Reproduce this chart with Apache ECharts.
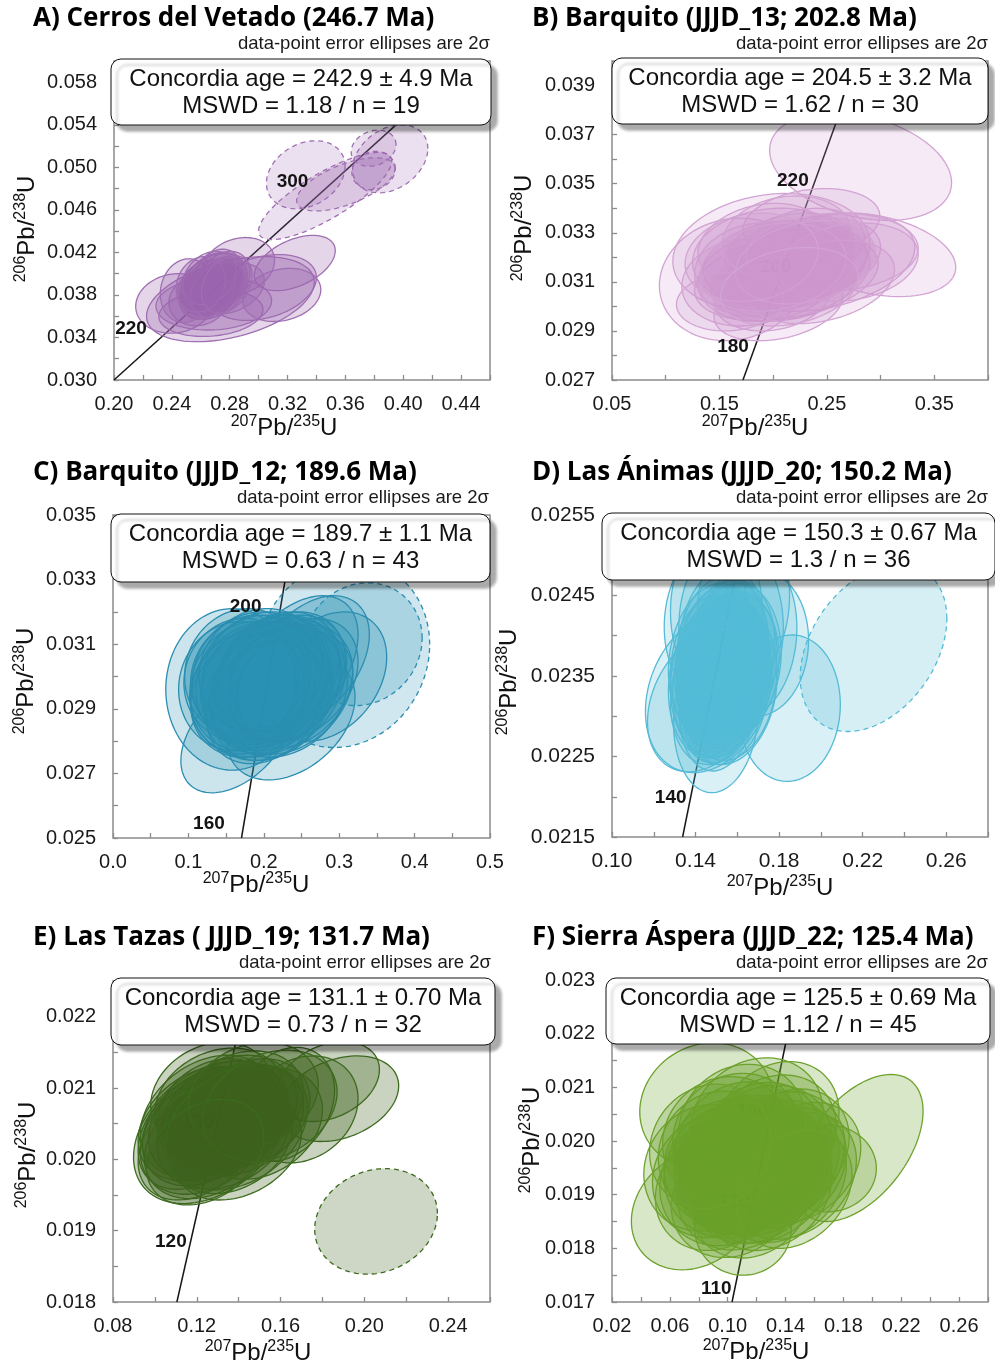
<!DOCTYPE html>
<html>
<head>
<meta charset="utf-8">
<title>U-Pb concordia diagrams</title>
<script src="https://cdn.jsdelivr.net/npm/echarts@6/dist/echarts.min.js"></script>
<style>
  html, body { margin: 0; padding: 0; background: #ffffff; }
  #chart { width: 995px; height: 1363px; }
</style>
</head>
<body>
<div id="chart"></div>
<script>
// ---------------------------------------------------------------------------
// Text content
// ---------------------------------------------------------------------------
const panelTitles = [
  'A) Cerros del Vetado (246.7 Ma)',
  'B) Barquito (JJJD_13; 202.8 Ma)',
  'C) Barquito (JJJD_12; 189.6 Ma)',
  'D) Las Ánimas (JJJD_20; 150.2 Ma)',
  'E) Las Tazas ( JJJD_19; 131.7 Ma)',
  'F) Sierra Áspera (JJJD_22; 125.4 Ma)'
];
const ellipseNote = 'data-point error ellipses are 2σ';
const concordiaAgeText = [
  'Concordia age = 242.9 ± 4.9 Ma',
  'Concordia age = 204.5 ± 3.2 Ma',
  'Concordia age = 189.7 ± 1.1 Ma',
  'Concordia age = 150.3 ± 0.67 Ma',
  'Concordia age = 131.1 ± 0.70 Ma',
  'Concordia age = 125.5 ± 0.69 Ma'
];
const mswdText = [
  'MSWD = 1.18 / n = 19',
  'MSWD = 1.62 / n = 30',
  'MSWD = 0.63 / n = 43',
  'MSWD = 1.3 / n = 36',
  'MSWD = 0.73 / n = 32',
  'MSWD = 1.12 / n = 45'
];

// ---------------------------------------------------------------------------
// Axes: [min, max, tick step] and the tick values that carry a label
// ---------------------------------------------------------------------------
const xExtents = [[0.20, 0.46, 0.02], [0.05, 0.40, 0.05], [0.0, 0.5, 0.05], [0.10, 0.28, 0.02], [0.08, 0.26, 0.02], [0.02, 0.28, 0.02]];
const yExtents = [[0.030, 0.060, 0.002], [0.027, 0.040, 0.001], [0.025, 0.035, 0.001], [0.0215, 0.0255, 0.0005], [0.018, 0.0225, 0.0005], [0.017, 0.023, 0.0005]];
const xTickLabels = [
  [0.20, 0.24, 0.28, 0.32, 0.36, 0.40, 0.44],
  [0.05, 0.15, 0.25, 0.35],
  [0.0, 0.1, 0.2, 0.3, 0.4, 0.5],
  [0.10, 0.14, 0.18, 0.22, 0.26],
  [0.08, 0.12, 0.16, 0.20, 0.24],
  [0.02, 0.06, 0.10, 0.14, 0.18, 0.22, 0.26]
];
const yTickLabels = [
  [0.030, 0.034, 0.038, 0.042, 0.046, 0.050, 0.054, 0.058],
  [0.027, 0.029, 0.031, 0.033, 0.035, 0.037, 0.039],
  [0.025, 0.027, 0.029, 0.031, 0.033, 0.035],
  [0.0215, 0.0225, 0.0235, 0.0245, 0.0255],
  [0.018, 0.019, 0.020, 0.021, 0.022],
  [0.017, 0.018, 0.019, 0.020, 0.021, 0.022, 0.023]
];
const xDecimals = [2, 2, 1, 2, 2, 2];
const yDecimals = [3, 3, 3, 4, 3, 3];

// ---------------------------------------------------------------------------
// Concordia traces [207Pb/235U, 206Pb/238U] and labelled ages [x, y, age]
// ---------------------------------------------------------------------------
const concordiaA = [[0.200, 0.0300], [0.430, 0.0583]];
const concordiaB = [[0.1719, 0.0270], [0.2794, 0.0400]];
const concordiaC = [[0.1704, 0.0250], [0.2429, 0.0350]];
const concordiaD = [[0.1338, 0.0215], [0.1650, 0.0255]];
const concordiaE = [[0.1105, 0.0180], [0.1453, 0.0225]];
const concordiaF = [[0.1030, 0.0170], [0.1492, 0.0230]];

const ageMarksA = [[0.2393, 0.0348, 220], [0.3510, 0.0486, 300]];
const ageMarksB = [[0.2387, 0.0351, 220], [0.1830, 0.02836, 180]];
const ageMarksC = [[0.2221, 0.03216, 200], [0.1735, 0.02544, 160]];
const ageMarksD = [[0.1376, 0.02199, 140]];
const ageMarksE = [[0.1171, 0.01885, 120]];
const ageMarksF = [[0.1048, 0.01725, 110]];
// age labels that sit underneath the data cloud
const buriedMarksB = [[0.2224, 0.03163, 200]];
const buriedMarksE = [[0.1300, 0.02051, 130]];
const buriedMarksF = [[0.1173, 0.01887, 120], [0.1302, 0.02054, 130]];

// ---------------------------------------------------------------------------
// Analyses: [207/235 centre, 206/238 centre, 2σ 207/235, 2σ 206/238, rho]
// ---------------------------------------------------------------------------
const ellipsesA = [
  [0.2805, 0.0376, 0.0580, 0.0040, 0.40], [0.2420, 0.0372, 0.0270, 0.0028, 0.10],
  [0.3250, 0.0410, 0.0280, 0.0026, 0.45], [0.3030, 0.0387, 0.0370, 0.0031, 0.30],
  [0.2860, 0.0407, 0.0250, 0.0027, 0.20], [0.2690, 0.0390, 0.0230, 0.0029, 0.30],
  [0.2650, 0.0382, 0.0200, 0.0025, 0.20], [0.2760, 0.0395, 0.0180, 0.0026, 0.25],
  [0.2670, 0.0363, 0.0360, 0.0022, 0.15], [0.2585, 0.0375, 0.0205, 0.0024, 0.10],
  [0.2690, 0.0372, 0.0400, 0.0025, 0.10], [0.3160, 0.0380, 0.0270, 0.0025, 0.20],
  [0.2500, 0.0384, 0.0180, 0.0030, 0.10], [0.2800, 0.0386, 0.0240, 0.0024, 0.30],
  [0.2720, 0.0400, 0.0160, 0.0023, 0.20], [0.2680, 0.0388, 0.0210, 0.0026, 0.25],
  [0.2620, 0.0380, 0.0170, 0.0023, 0.20], [0.2740, 0.0392, 0.0150, 0.0024, 0.30],
  [0.2700, 0.0392, 0.0220, 0.0028, 0.25], [0.2640, 0.0386, 0.0200, 0.0027, 0.20],
  [0.2720, 0.0385, 0.0190, 0.0026, 0.30], [0.2660, 0.0396, 0.0185, 0.0025, 0.25],
  [0.2600, 0.0390, 0.0170, 0.0026, 0.15], [0.2780, 0.0390, 0.0175, 0.0027, 0.30]
];
const rejectedA = [
  [0.3326, 0.0493, 0.0272, 0.0032, 0.25], [0.3460, 0.0473, 0.0460, 0.0041, 0.80],
  [0.3910, 0.0508, 0.0260, 0.0032, 0.30], [0.3795, 0.0497, 0.0150, 0.0018, 0.10],
  [0.3795, 0.0518, 0.0155, 0.0017, 0.20], [0.3603, 0.0484, 0.0340, 0.0025, 0.60]
];

const ellipsesB = [
  [0.2814, 0.0357, 0.0847, 0.0022, -0.30], [0.1625, 0.0311, 0.0684, 0.0025, 0.10],
  [0.2946, 0.0321, 0.0754, 0.0017, -0.30], [0.2356, 0.0334, 0.0637, 0.0014, 0.20],
  [0.1983, 0.0322, 0.0917, 0.0024, 0.15], [0.2449, 0.0318, 0.0870, 0.0020, 0.30],
  [0.2123, 0.0312, 0.0855, 0.0018, 0.30], [0.2050, 0.0318, 0.0700, 0.0017, 0.20],
  [0.1950, 0.0312, 0.0650, 0.0018, 0.15], [0.2150, 0.0322, 0.0600, 0.0016, 0.25],
  [0.2000, 0.0320, 0.0750, 0.0020, 0.10], [0.2250, 0.0316, 0.0620, 0.0017, 0.30],
  [0.1850, 0.0315, 0.0580, 0.0019, 0.10], [0.2100, 0.0310, 0.0680, 0.0016, 0.20],
  [0.2300, 0.0325, 0.0550, 0.0015, 0.20], [0.1900, 0.0325, 0.0600, 0.0017, 0.20],
  [0.2200, 0.0313, 0.0700, 0.0018, 0.30], [0.1750, 0.0310, 0.0600, 0.0018, 0.10],
  [0.2400, 0.0320, 0.0600, 0.0016, 0.25], [0.2000, 0.0305, 0.0550, 0.0015, 0.20],
  [0.2125, 0.0328, 0.0600, 0.0017, 0.15], [0.2050, 0.0300, 0.0600, 0.0014, 0.30],
  [0.2550, 0.0322, 0.0800, 0.0016, 0.10], [0.2450, 0.0310, 0.0680, 0.0017, 0.30],
  [0.1600, 0.0302, 0.0500, 0.0012, 0.10], [0.2700, 0.0318, 0.0650, 0.0016, 0.20],
  [0.2000, 0.0316, 0.0680, 0.0018, 0.20], [0.2300, 0.0318, 0.0650, 0.0017, 0.25],
  [0.1800, 0.0320, 0.0620, 0.0018, 0.15], [0.2150, 0.0308, 0.0640, 0.0016, 0.25]
];
const rejectedB = [];

const ellipsesC = [
  [0.158, 0.0296, 0.088, 0.0025, 0.00], [0.165, 0.0282, 0.075, 0.0018, 0.45],
  [0.236, 0.0287, 0.085, 0.0019, 0.35], [0.283, 0.0300, 0.080, 0.0020, 0.30],
  [0.262, 0.0305, 0.078, 0.0020, 0.40], [0.240, 0.0303, 0.085, 0.0022, 0.45],
  [0.200, 0.0298, 0.082, 0.0019, 0.15], [0.190, 0.0300, 0.085, 0.0020, 0.10],
  [0.210, 0.0296, 0.080, 0.0019, 0.20], [0.220, 0.0299, 0.083, 0.0020, 0.15],
  [0.180, 0.0297, 0.078, 0.0020, 0.10], [0.230, 0.0300, 0.080, 0.0019, 0.25],
  [0.195, 0.0301, 0.076, 0.0018, 0.10], [0.205, 0.0294, 0.084, 0.0020, 0.20],
  [0.240, 0.0297, 0.078, 0.0019, 0.25], [0.170, 0.0299, 0.076, 0.0019, 0.05],
  [0.215, 0.0301, 0.074, 0.0018, 0.15], [0.185, 0.0294, 0.082, 0.0019, 0.15],
  [0.225, 0.0295, 0.086, 0.0020, 0.20], [0.175, 0.0301, 0.080, 0.0020, 0.05],
  [0.212, 0.0293, 0.080, 0.0019, 0.25], [0.198, 0.0299, 0.088, 0.0021, 0.15],
  [0.188, 0.0297, 0.072, 0.0018, 0.10], [0.232, 0.0302, 0.076, 0.0018, 0.20],
  [0.202, 0.0292, 0.078, 0.0019, 0.25], [0.245, 0.0299, 0.080, 0.0019, 0.30],
  [0.165, 0.0297, 0.078, 0.0020, 0.05], [0.208, 0.0300, 0.070, 0.0017, 0.15],
  [0.193, 0.0296, 0.090, 0.0021, 0.15], [0.222, 0.0302, 0.078, 0.0018, 0.20],
  [0.183, 0.0300, 0.080, 0.0019, 0.10], [0.218, 0.0297, 0.090, 0.0021, 0.25],
  [0.204, 0.0298, 0.066, 0.0016, 0.15], [0.236, 0.0295, 0.082, 0.0019, 0.30],
  [0.178, 0.0295, 0.076, 0.0019, 0.10], [0.210, 0.0299, 0.076, 0.0018, 0.20],
  [0.196, 0.0302, 0.082, 0.0019, 0.10], [0.228, 0.0298, 0.074, 0.0018, 0.20]
];
const rejectedC = [
  [0.305, 0.0307, 0.115, 0.0029, 0.10], [0.330, 0.0310, 0.080, 0.0019, 0.10]
];

const ellipsesD = [
  [0.1850, 0.0231, 0.0243, 0.00091, 0.05], [0.1498, 0.0230, 0.0203, 0.00095, 0.10],
  [0.1463, 0.0233, 0.0303, 0.00100, 0.24], [0.1450, 0.0232, 0.0280, 0.00089, 0.30],
  [0.1702, 0.0239, 0.0239, 0.00090, 0.05], [0.1500, 0.0243, 0.0220, 0.00100, 0.00],
  [0.1630, 0.0244, 0.0220, 0.00100, 0.10], [0.1570, 0.0241, 0.0250, 0.00110, 0.00],
  [0.1450, 0.0242, 0.0200, 0.00090, 0.10], [0.1660, 0.0240, 0.0225, 0.00100, 0.10],
  [0.153, 0.0235, 0.022, 0.00095, 0.15], [0.150, 0.0234, 0.021, 0.00092, 0.10],
  [0.156, 0.0236, 0.023, 0.00095, 0.20], [0.151, 0.0237, 0.020, 0.00090, 0.10],
  [0.157, 0.0234, 0.022, 0.00095, 0.15], [0.148, 0.0236, 0.020, 0.00090, 0.10],
  [0.154, 0.0233, 0.021, 0.00090, 0.15], [0.158, 0.0237, 0.023, 0.00095, 0.10],
  [0.152, 0.0233, 0.020, 0.00088, 0.20], [0.153, 0.0238, 0.022, 0.00095, 0.10],
  [0.149, 0.0237, 0.022, 0.00095, 0.15], [0.155, 0.0235, 0.020, 0.00090, 0.25],
  [0.152, 0.0235, 0.024, 0.00100, 0.15], [0.159, 0.0236, 0.021, 0.00090, 0.15],
  [0.147, 0.0234, 0.020, 0.00090, 0.10], [0.156, 0.0238, 0.019, 0.00088, 0.10],
  [0.150, 0.0236, 0.019, 0.00088, 0.15], [0.154, 0.0237, 0.024, 0.00100, 0.20],
  [0.149, 0.0233, 0.021, 0.00090, 0.15], [0.157, 0.0233, 0.022, 0.00090, 0.20],
  [0.153, 0.0239, 0.021, 0.00095, 0.10], [0.151, 0.0232, 0.019, 0.00088, 0.15]
];
const rejectedD = [[0.2252, 0.02385, 0.0351, 0.00104, 0.35]];

const ellipsesE = [
  [0.1880, 0.02085, 0.0284, 0.00060, 0.30], [0.1826, 0.02109, 0.0246, 0.00056, 0.30],
  [0.1616, 0.02077, 0.0242, 0.00080, 0.25], [0.1263, 0.02038, 0.0365, 0.00100, 0.35],
  [0.1400, 0.02015, 0.0300, 0.00072, 0.30], [0.1700, 0.02070, 0.0270, 0.00075, 0.20],
  [0.128, 0.02050, 0.031, 0.00080, 0.25], [0.124, 0.02045, 0.030, 0.00082, 0.30],
  [0.134, 0.02060, 0.030, 0.00078, 0.20], [0.124, 0.02035, 0.031, 0.00084, 0.30],
  [0.140, 0.02055, 0.031, 0.00078, 0.25], [0.130, 0.02065, 0.029, 0.00076, 0.20],
  [0.133, 0.02040, 0.032, 0.00082, 0.25], [0.122, 0.02050, 0.030, 0.00080, 0.30],
  [0.138, 0.02070, 0.030, 0.00076, 0.20], [0.126, 0.02025, 0.031, 0.00080, 0.30],
  [0.145, 0.02065, 0.029, 0.00076, 0.25], [0.131, 0.02080, 0.031, 0.00076, 0.20],
  [0.120, 0.02040, 0.028, 0.00082, 0.35], [0.136, 0.02030, 0.030, 0.00078, 0.25],
  [0.142, 0.02080, 0.029, 0.00072, 0.20], [0.125, 0.02060, 0.032, 0.00086, 0.30],
  [0.132, 0.02055, 0.027, 0.00072, 0.20], [0.150, 0.02050, 0.030, 0.00078, 0.25],
  [0.127, 0.02090, 0.029, 0.00074, 0.20], [0.121, 0.02025, 0.029, 0.00082, 0.35],
  [0.139, 0.02045, 0.034, 0.00088, 0.30], [0.147, 0.02090, 0.031, 0.00074, 0.20],
  [0.155, 0.02075, 0.032, 0.00078, 0.25], [0.124, 0.02010, 0.028, 0.00074, 0.30]
];
const rejectedE = [[0.2056, 0.01913, 0.0293, 0.00074, 0.15]];

const ellipsesF = [
  [0.1907, 0.01987, 0.0444, 0.00137, 0.50], [0.1688, 0.01949, 0.0340, 0.00081, 0.00],
  [0.0853, 0.02066, 0.0461, 0.00117, 0.10], [0.0772, 0.01873, 0.0438, 0.00113, 0.20],
  [0.1106, 0.01837, 0.0334, 0.00087, 0.00],
  [0.112, 0.01950, 0.046, 0.00122, 0.15], [0.100, 0.01960, 0.044, 0.00118, 0.10],
  [0.125, 0.01945, 0.045, 0.00120, 0.20], [0.090, 0.01935, 0.042, 0.00115, 0.10],
  [0.135, 0.01970, 0.046, 0.00122, 0.20], [0.118, 0.01925, 0.044, 0.00116, 0.15],
  [0.095, 0.01975, 0.043, 0.00118, 0.05], [0.140, 0.01950, 0.042, 0.00112, 0.25],
  [0.108, 0.01990, 0.045, 0.00120, 0.15], [0.128, 0.01910, 0.044, 0.00114, 0.20],
  [0.104, 0.01945, 0.048, 0.00126, 0.10], [0.145, 0.01935, 0.044, 0.00118, 0.25],
  [0.115, 0.01970, 0.040, 0.00110, 0.15], [0.085, 0.01950, 0.043, 0.00118, 0.10],
  [0.132, 0.01960, 0.045, 0.00116, 0.20], [0.110, 0.01915, 0.045, 0.00118, 0.15],
  [0.122, 0.01995, 0.043, 0.00114, 0.15], [0.098, 0.01925, 0.045, 0.00120, 0.10],
  [0.150, 0.01960, 0.042, 0.00112, 0.25], [0.113, 0.01955, 0.050, 0.00130, 0.15],
  [0.126, 0.01930, 0.046, 0.00120, 0.20], [0.106, 0.02010, 0.044, 0.00116, 0.10],
  [0.130, 0.02005, 0.045, 0.00118, 0.20], [0.118, 0.01945, 0.038, 0.00104, 0.15],
  [0.092, 0.01910, 0.042, 0.00114, 0.15], [0.138, 0.01925, 0.044, 0.00114, 0.25],
  [0.104, 0.01895, 0.043, 0.00112, 0.15], [0.124, 0.01980, 0.048, 0.00124, 0.20],
  [0.116, 0.01890, 0.041, 0.00108, 0.15], [0.100, 0.02000, 0.045, 0.00120, 0.05],
  [0.142, 0.01985, 0.042, 0.00112, 0.20], [0.120, 0.02035, 0.046, 0.00120, 0.15],
  [0.134, 0.02030, 0.043, 0.00118, 0.20], [0.110, 0.02025, 0.044, 0.00118, 0.10],
  [0.146, 0.01910, 0.040, 0.00110, 0.25], [0.088, 0.01990, 0.042, 0.00116, 0.10]
];
const rejectedF = [];

// ---------------------------------------------------------------------------
// Page layout and styling for each panel (pixels)
// ---------------------------------------------------------------------------
const SANS = '"Liberation Sans", Arial, Helvetica, sans-serif';
const HEAD = '"Open Sans", Lato, sans-serif';

const panels = [
  { grid: [114, 61, 376, 319], head: [33, 19], note: [490, 44], box: [111, 59, 380, 66],
    xName: [284, 427], yName: [26, 229], gap: 24, tickFont: 20,
    stroke: '#a06fb2', fill: 'rgba(157,100,174,0.27)', dashFill: 'rgba(157,100,174,0.20)' },
  { grid: [612, 61, 376, 319], head: [532, 19], note: [988, 44], box: [612, 58, 376, 66],
    xName: [755, 427], yName: [523, 228], gap: 6, tickFont: 20,
    stroke: '#d3a4d3', fill: 'rgba(205,150,205,0.20)', dashFill: 'rgba(205,150,205,0.15)' },
  { grid: [113, 515, 377, 323], head: [33, 473], note: [489, 498], box: [111, 514, 379, 68],
    xName: [256, 884], yName: [25, 681], gap: 19, tickFont: 20,
    stroke: '#2b8db0', fill: 'rgba(40,145,180,0.24)', dashFill: 'rgba(40,145,180,0.22)' },
  { grid: [612, 515, 376, 322], head: [532, 473], note: [988, 498], box: [602, 513, 393, 67],
    xName: [780, 887], yName: [508, 682], gap: 4, tickFont: 21,
    stroke: '#55bbd6', fill: 'rgba(80,188,214,0.22)', dashFill: 'rgba(80,188,214,0.24)' },
  { grid: [113, 981, 377, 321], head: [33, 938], note: [491, 963], box: [111, 978, 384, 67],
    xName: [258, 1352], yName: [27, 1155], gap: 4, tickFont: 20,
    stroke: '#3c6a1e', fill: 'rgba(60,96,28,0.28)', dashFill: 'rgba(60,96,28,0.25)' },
  { grid: [612, 980, 376, 322], head: [532, 938], note: [988, 963], box: [606, 978, 384, 66],
    xName: [756, 1351], yName: [531, 1140], gap: 3, tickFont: 20,
    stroke: '#6ea22d', fill: 'rgba(105,158,40,0.25)', dashFill: 'rgba(105,158,40,0.22)' }
];

const concordia = [concordiaA, concordiaB, concordiaC, concordiaD, concordiaE, concordiaF];
const ageMarks = [ageMarksA, ageMarksB, ageMarksC, ageMarksD, ageMarksE, ageMarksF];
const buriedMarks = [[], buriedMarksB, [], [], buriedMarksE, buriedMarksF];
const ellipses = [ellipsesA, ellipsesB, ellipsesC, ellipsesD, ellipsesE, ellipsesF];
const rejected = [rejectedA, rejectedB, rejectedC, rejectedD, rejectedE, rejectedF];

// ---------------------------------------------------------------------------
// Renderers
// ---------------------------------------------------------------------------
function ellipseRenderer(stroke, fill, dashed) {
  return function (params, api) {
    const cx = api.value(0), cy = api.value(1);
    const sx = api.value(2), sy = api.value(3), r = api.value(4);
    const k = Math.sqrt(Math.max(0, 1 - r * r));
    const pts = [];
    const n = 96;
    for (let i = 0; i < n; i++) {
      const t = (i / n) * Math.PI * 2;
      pts.push(api.coord([cx + sx * Math.cos(t), cy + sy * (r * Math.cos(t) + k * Math.sin(t))]));
    }
    return {
      type: 'polygon',
      shape: { points: pts },
      style: { fill: fill, stroke: stroke, lineWidth: 1.3, lineDash: dashed ? [5, 4] : null }
    };
  };
}

function ageLabelRenderer(gap, color) {
  return function (params, api) {
    const p = api.coord([api.value(0), api.value(1)]);
    return {
      type: 'text',
      x: p[0] - gap,
      y: p[1],
      style: {
        text: String(api.value(2)),
        font: 'bold 19px ' + SANS,
        fill: color,
        align: 'right', textAlign: 'right',
        verticalAlign: 'middle', textVerticalAlign: 'middle'
      }
    };
  };
}

function labelFormatter(values, decimals, step) {
  return function (v) {
    for (const l of values) {
      if (Math.abs(l - v) < step * 1e-3) return l.toFixed(decimals);
    }
    return '';
  };
}

function pbRatio(top, bottom) {
  return '{s|' + top + '}{m|Pb/}{s|' + bottom + '}{m|U}';
}
const ratioRich = {
  s: { fontSize: 16, fontFamily: SANS, fill: '#111', verticalAlign: 'top', lineHeight: 16 },
  m: { fontSize: 24, fontFamily: SANS, fill: '#111', verticalAlign: 'bottom', lineHeight: 26 }
};

// ---------------------------------------------------------------------------
// Build option
// ---------------------------------------------------------------------------
const grids = [], xAxes = [], yAxes = [], series = [], graphics = [];

panels.forEach(function (p, i) {
  const [gl, gt, gw, gh] = p.grid;
  grids.push({
    left: gl, top: gt, width: gw, height: gh,
    show: true, borderColor: '#8c8c8c', borderWidth: 1.5, backgroundColor: 'transparent',
    containLabel: false, outerBoundsMode: 'none'
  });

  const tick = { show: true, inside: true, length: 5, lineStyle: { color: '#8c8c8c', width: 1.3 } };
  const [x0, x1, xs] = xExtents[i];
  const [y0, y1, ys] = yExtents[i];
  xAxes.push({
    type: 'value', gridIndex: i, min: x0, max: x1, interval: xs,
    axisLine: { show: false }, axisTick: tick, splitLine: { show: false },
    axisLabel: {
      margin: 14, fontSize: p.tickFont, fontFamily: SANS, color: '#1a1a1a',
      showMinLabel: true, showMaxLabel: true, hideOverlap: false,
      formatter: labelFormatter(xTickLabels[i], xDecimals[i], xs)
    }
  });
  yAxes.push({
    type: 'value', gridIndex: i, min: y0, max: y1, interval: ys,
    axisLine: { show: false }, axisTick: tick, splitLine: { show: false },
    axisLabel: {
      margin: 17, fontSize: p.tickFont, fontFamily: SANS, color: '#1a1a1a',
      showMinLabel: true, showMaxLabel: true, hideOverlap: false,
      formatter: labelFormatter(yTickLabels[i], yDecimals[i], ys)
    }
  });

  // concordia curve, underneath the analyses
  series.push({
    type: 'line', xAxisIndex: i, yAxisIndex: i, data: concordia[i],
    symbol: 'none', silent: true, animation: false, z: 1,
    lineStyle: { color: '#161616', width: 1.5 }
  });
  if (buriedMarks[i].length) {
    series.push({
      type: 'custom', xAxisIndex: i, yAxisIndex: i, data: buriedMarks[i],
      renderItem: ageLabelRenderer(p.gap, '#1a1a1a'), silent: true, animation: false, z: 1,
      encode: { x: 0, y: 1 }
    });
  }
  if (rejected[i].length) {
    series.push({
      type: 'custom', xAxisIndex: i, yAxisIndex: i, data: rejected[i],
      dimensions: ['x', 'y', 'sx', 'sy', 'rho'], encode: { x: 0, y: 1 },
      renderItem: ellipseRenderer(p.stroke, p.dashFill, true),
      clip: true, silent: true, animation: false, z: 2
    });
  }
  series.push({
    type: 'custom', xAxisIndex: i, yAxisIndex: i, data: ellipses[i],
    dimensions: ['x', 'y', 'sx', 'sy', 'rho'], encode: { x: 0, y: 1 },
    renderItem: ellipseRenderer(p.stroke, p.fill, false),
    clip: true, silent: true, animation: false, z: 3
  });
  series.push({
    type: 'custom', xAxisIndex: i, yAxisIndex: i, data: ageMarks[i],
    renderItem: ageLabelRenderer(p.gap, '#141414'), silent: true, animation: false, z: 4,
    encode: { x: 0, y: 1 }
  });

  // heading, note, result box and axis titles
  graphics.push({
    type: 'text', x: p.head[0], y: p.head[1], z: 100,
    style: { text: panelTitles[i], font: 'bold 26px ' + HEAD, fill: '#000',
             align: 'left', textAlign: 'left', verticalAlign: 'middle', textVerticalAlign: 'middle' }
  });
  graphics.push({
    type: 'text', x: p.note[0], y: p.note[1], z: 100,
    style: { text: ellipseNote, font: '18.5px ' + SANS, fill: '#1a1a1a',
             align: 'right', textAlign: 'right', verticalAlign: 'middle', textVerticalAlign: 'middle' }
  });
  const [bx, by, bw, bh] = p.box;
  graphics.push({
    type: 'rect', z: 100,
    shape: { x: bx, y: by, width: bw, height: bh, r: 10 },
    style: { fill: '#ffffff', stroke: '#111', lineWidth: 1,
             shadowBlur: 3, shadowOffsetX: 6, shadowOffsetY: 6, shadowColor: 'rgba(0,0,0,0.33)' }
  });
  graphics.push({
    type: 'text', x: bx + bw / 2, y: by + 20, z: 101,
    style: { text: concordiaAgeText[i], font: '24px ' + SANS, fill: '#111',
             align: 'center', textAlign: 'center', verticalAlign: 'middle', textVerticalAlign: 'middle' }
  });
  graphics.push({
    type: 'text', x: bx + bw / 2, y: by + 47, z: 101,
    style: { text: mswdText[i], font: '24px ' + SANS, fill: '#111',
             align: 'center', textAlign: 'center', verticalAlign: 'middle', textVerticalAlign: 'middle' }
  });
  graphics.push({
    type: 'text', x: p.xName[0], y: p.xName[1], z: 100,
    style: { text: pbRatio('207', '235'), rich: ratioRich, fill: '#111',
             align: 'center', textAlign: 'center', verticalAlign: 'middle', textVerticalAlign: 'middle' }
  });
  graphics.push({
    type: 'text', x: p.yName[0], y: p.yName[1], rotation: Math.PI / 2, z: 100,
    style: { text: pbRatio('206', '238'), rich: ratioRich, fill: '#111',
             align: 'center', textAlign: 'center', verticalAlign: 'middle', textVerticalAlign: 'middle' }
  });
});

const chart = echarts.init(document.getElementById('chart'), null, { renderer: 'canvas' });
chart.setOption({
  backgroundColor: '#ffffff',
  animation: false,
  grid: grids,
  xAxis: xAxes,
  yAxis: yAxes,
  series: series,
  graphic: { elements: graphics }
});
</script>
</body>
</html>
